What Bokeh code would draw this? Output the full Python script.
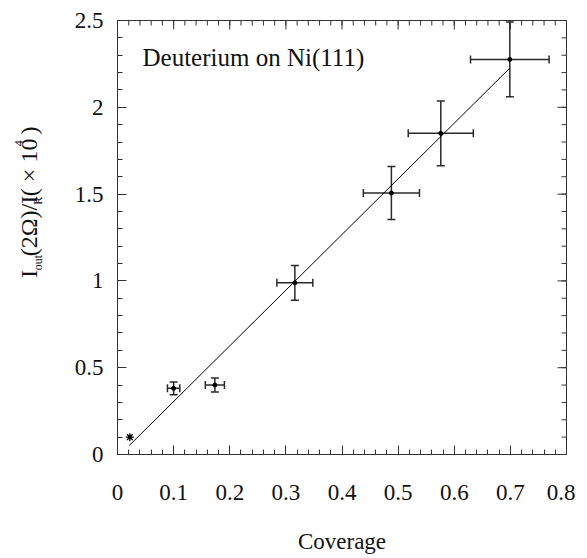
import math
from bokeh.plotting import figure
from bokeh.layouts import row
from bokeh.models import (FixedTicker, Whisker, TeeHead, ColumnDataSource, Label, Range1d)
from bokeh.embed import file_html
from bokeh.resources import INLINE

# ---- data ----
coverage = [0.100, 0.1735, 0.316, 0.488, 0.576, 0.699]
signal = [0.381, 0.400, 0.989, 1.506, 1.850, 2.276]
coverage_err = [0.011, 0.017, 0.032, 0.050, 0.058, 0.070]
signal_err = [0.037, 0.040, 0.100, 0.153, 0.187, 0.215]

low_x = [0.022]
low_y = [0.10]

fit_x = [0.021, 0.699]
fit_y = [0.052, 2.226]

x_ticks = [0, 0.1, 0.2, 0.3, 0.4, 0.5, 0.6, 0.7, 0.8]
x_tick_labels = ["0", "0.1", "0.2", "0.3", "0.4", "0.5", "0.6", "0.7", "0.8"]
y_ticks = [0, 0.5, 1.0, 1.5, 2.0, 2.5]
y_tick_labels = ["0", "0.5", "1", "1.5", "2", "2.5"]
x_minor = [round(i * 0.02, 2) for i in range(41)]
y_minor = [round(i * 0.1, 1) for i in range(26)]

title_text = "Deuterium on Ni(111)"
x_label = "Coverage"
# y label pieces: (text, role) role: main / sub / sup
y_label_parts = [("I", "main"), ("out", "sub"), ("(2\u03a9)/I", "main"), ("R", "sub"),
                 ("( \u00d7 10", "main"), ("4", "sup"), (")", "main")]

FONT = "Liberation Serif"
AX = "#333333"
TXT = "#111111"
H = 556
LW = 60  # width of the label strip on the left

# ---------------- main plot ----------------
p = figure(width=575 - LW, height=H, output_backend="svg", toolbar_location=None,
           x_range=Range1d(0, 0.8), y_range=Range1d(0, 2.5),
           min_border_left=117 - LW, min_border_right=9, min_border_top=20,
           min_border_bottom=H - 455)
p.grid.visible = False
p.outline_line_color = AX
p.outline_line_width = 1
p.background_fill_color = "white"
p.border_fill_color = "white"


def style_axis(ax, ticks, minor, labels, standoff):
    ax.ticker = FixedTicker(ticks=ticks, minor_ticks=minor)
    ax.major_label_overrides = {t: s for t, s in zip(ticks, labels)}
    ax.axis_line_color = AX
    ax.major_tick_line_color = AX
    ax.minor_tick_line_color = AX
    ax.major_tick_in = 9
    ax.major_tick_out = 0
    ax.minor_tick_in = 5
    ax.minor_tick_out = 0
    ax.major_label_text_font = FONT
    ax.major_label_text_font_size = "23px"
    ax.major_label_text_color = TXT
    ax.major_label_standoff = standoff


style_axis(p.xaxis[0], x_ticks, x_minor, x_tick_labels, 30)
style_axis(p.yaxis[0], y_ticks, y_minor, y_tick_labels, 14)
p.xaxis.axis_label = x_label
p.xaxis.axis_label_text_font = FONT
p.xaxis.axis_label_text_font_size = "23px"
p.xaxis.axis_label_text_font_style = "normal"
p.xaxis.axis_label_text_color = TXT
p.xaxis.axis_label_standoff = 26

# inward ticks on top and right edges (half of each dash is clipped by the frame)
y_top = y_ticks[-1]
x_right = x_ticks[-1]
p.scatter(x_minor, [y_top] * len(x_minor), marker="dash", angle=math.pi / 2, size=10,
          line_color=AX, line_width=1)
p.scatter(x_ticks, [y_top] * len(x_ticks), marker="dash", angle=math.pi / 2, size=18,
          line_color=AX, line_width=1)
p.scatter([x_right] * len(y_minor), y_minor, marker="dash", size=10,
          line_color=AX, line_width=1)
p.scatter([x_right] * len(y_ticks), y_ticks, marker="dash", size=18,
          line_color=AX, line_width=1)

# fit line
p.line(fit_x, fit_y, line_color="black", line_width=1)

# error bars
src = ColumnDataSource(dict(
    x=coverage, y=signal,
    ylo=[v - e for v, e in zip(signal, signal_err)],
    yhi=[v + e for v, e in zip(signal, signal_err)],
    xlo=[v - e for v, e in zip(coverage, coverage_err)],
    xhi=[v + e for v, e in zip(coverage, coverage_err)],
))
EB = "#2a2a2a"


def tee():
    return TeeHead(size=8, line_color=EB, line_width=1.5)


p.add_layout(Whisker(source=src, base="x", lower="ylo", upper="yhi", dimension="height",
                     line_color=EB, line_width=1.5, upper_head=tee(), lower_head=tee()))
p.add_layout(Whisker(source=src, base="y", lower="xlo", upper="xhi", dimension="width",
                     line_color=EB, line_width=1.5, upper_head=tee(), lower_head=tee()))

p.scatter("x", "y", source=src, size=4, color="black")
p.scatter(low_x, low_y, marker="asterisk", size=8, line_color="black", line_width=1.3)

# in-plot title
p.add_layout(Label(x=25, y=455 - 58, x_units="screen", y_units="screen", text=title_text,
                   text_font=FONT, text_font_size="25px", text_color=TXT,
                   text_baseline="alphabetic", text_align="left"))

# ---------------- y label strip (data units = page pixels) ----------------
lab = figure(width=LW, height=H, output_backend="svg", toolbar_location=None,
             x_range=Range1d(0, LW), y_range=Range1d(H, 0),
             x_axis_location=None, y_axis_location=None,
             min_border_left=0, min_border_right=0, min_border_top=0, min_border_bottom=0)
lab.grid.visible = False
lab.outline_line_color = None
lab.background_fill_color = "white"
lab.border_fill_color = "white"

# positions (x of baseline, y where the piece starts) in page pixels
piece_pos = [(28, 330), (37, 320), (28, 302), (37, 236), (28, 225), (18, 161), (28, 146)]
role_size = {"main": "24px", "sub": "12px", "sup": "12px"}
for (txt, role), (X, Y) in zip(y_label_parts, piece_pos):
    lab.add_layout(Label(x=X, y=Y, text=txt, angle=math.pi / 2, text_font=FONT,
                         text_font_size=role_size[role], text_color=TXT,
                         text_baseline="alphabetic", text_align="left"))

layout = row(lab, p, spacing=0)
open("out.html", "w").write(file_html(layout, INLINE))
